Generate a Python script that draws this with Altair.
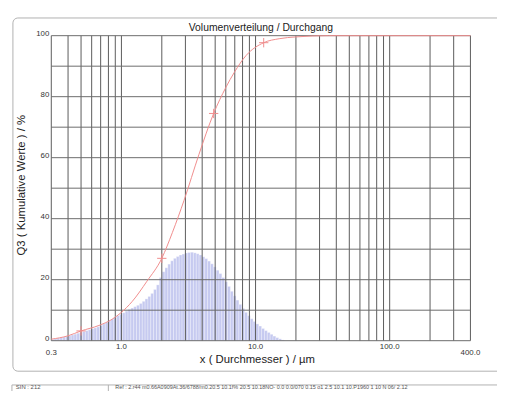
import altair as alt
import pandas as pd

# ---------------- data ----------------
bin_edges = [0.300, 0.315, 0.331, 0.347, 0.365, 0.383, 0.402, 0.422, 0.443, 0.465,
             0.489, 0.513, 0.539, 0.566, 0.594, 0.624, 0.655, 0.688, 0.722, 0.758,
             0.796, 0.836, 0.878, 0.922, 0.968, 1.016, 1.067, 1.120, 1.176, 1.235,
             1.297, 1.362, 1.430, 1.501, 1.576, 1.655, 1.738, 1.825, 1.916, 2.012,
             2.112, 2.218, 2.329, 2.445, 2.567, 2.696, 2.831, 2.972, 3.121, 3.277,
             3.441, 3.613, 3.793, 3.983, 4.182, 4.391, 4.611, 4.841, 5.083, 5.338,
             5.604, 5.885, 6.179, 6.488, 6.812, 7.153, 7.511, 7.886, 8.280, 8.694,
             9.129, 9.585, 10.065, 10.568, 11.096, 11.651, 12.234, 12.845, 13.488, 14.162,
             14.870, 15.614, 16.395]
bin_heights = [0.4, 0.6, 0.85, 1.0, 1.2, 1.35, 1.6, 1.9, 2.15, 2.45,
               2.75, 3.0, 3.3, 3.6, 3.9, 4.2, 4.55, 5.0, 5.5, 6.0,
               6.55, 7.1, 7.7, 8.2, 8.65, 9.15, 9.7, 10.25, 10.7, 11.15,
               11.6, 12.2, 12.9, 13.7, 14.5, 15.5, 16.8, 18.3, 20.7, 22.6,
               23.9, 25.1, 26.2, 27.0, 27.6, 28.1, 28.4, 28.75, 28.9, 29.0,
               28.8, 28.5, 28.1, 27.5, 26.9, 26.1, 25.2, 24.2, 23.1, 22.0,
               20.7, 19.3, 17.8, 16.2, 14.7, 13.3, 11.9, 10.6, 9.3, 8.2,
               7.2, 6.3, 5.5, 4.8, 4.0, 3.3, 2.7, 2.1, 1.5, 1.0,
               0.6, 0.25]

cum_x = [0.3, 0.4, 0.5, 0.68, 0.85, 1.0, 1.2, 1.55, 2.0, 2.4, 2.93, 3.78,
         4.87, 6.0, 6.95, 8.5, 11.5, 15, 20, 35, 400]
cum_q = [0.5, 1.6, 3.2, 5.0, 7.0, 9.3, 12.8, 19.5, 27, 35.5, 46, 61,
         74.5, 83, 88, 93.5, 97.7, 99, 99.6, 100, 100]

mark_x = [0.5, 2.0, 4.87, 11.5]
mark_q = [3.2, 27, 74.5, 97.7]

grid_x = [0.3, 0.4, 0.5, 0.6, 0.7, 0.8, 0.9,
          1, 2, 3, 4, 5, 6, 7, 8, 9,
          10, 20, 30, 40, 50, 60, 70, 80, 90,
          100, 200, 300, 400]
grid_y = [0, 10, 20, 30, 40, 50, 60, 70, 80, 90, 100]

x_ticks_inner = [1, 10, 100]
x_ticks_inner_text = ["1.0", "10.0", "100.0"]
x_ticks_ends = [0.3, 400]
x_ticks_ends_text = ["0.3", "400.0"]
y_ticks = [0, 20, 40, 60, 80, 100]
y_ticks_text = ["0", "20", "40", "60", "80", "100"]

title_text = "Volumenverteilung / Durchgang"
x_title = "x ( Durchmesser ) / µm"
y_title = "Q3 ( Kumulative Werte ) / %"
footer_left = "SIN : 212"
footer_right = ("Ref : 2.r44 m0.66A0909At.36/6788/m0.20.5 10.1f% 20.5 10.18NO- "
                "0.0 0.0/070 0.15 o1 2.5 10.1 10.P1960 1 10 N 06/ 2.12")

FONT = "Liberation Sans"
RED = "#f08c8c"

# ---------------- chart ----------------
xs = alt.Scale(type="log", domain=[0.3, 400])
ys = alt.Scale(domain=[0, 100])

hist_df = pd.DataFrame({"x0": bin_edges[:-1], "x1": bin_edges[1:], "h": bin_heights})
cum_df = pd.DataFrame({"x": cum_x, "q": cum_q})
mark_df = pd.DataFrame({"x": mark_x, "q": mark_q})
inner_df = pd.DataFrame({"x": x_ticks_inner, "t": x_ticks_inner_text})
ends_df = pd.DataFrame({"x": x_ticks_ends, "t": x_ticks_ends_text})
ylab_df = pd.DataFrame({"y": y_ticks, "t": y_ticks_text})
one = pd.DataFrame({"a": [0]})

bars = alt.Chart(hist_df).mark_rect(
    color="#c6caf0", stroke="white", strokeWidth=0.5, strokeOpacity=0.6
).encode(
    x=alt.X("x0:Q", scale=xs, axis=None),
    x2="x1:Q",
    y=alt.Y("h:Q", scale=ys, axis=None),
    y2=alt.datum(0),
)

vgrid = alt.Chart(pd.DataFrame({"g": grid_x})).mark_rule(
    color="#5a5a5a", strokeWidth=1
).encode(x=alt.X("g:Q", scale=xs, axis=None))

hgrid = alt.Chart(pd.DataFrame({"g": grid_y})).mark_rule(
    color="#6a6a6a", strokeWidth=1
).encode(y=alt.Y("g:Q", scale=ys, axis=None))

curve = alt.Chart(cum_df).mark_line(
    color=RED, strokeWidth=1, interpolate="monotone"
).encode(x=alt.X("x:Q", scale=xs, axis=None), y=alt.Y("q:Q", scale=ys, axis=None))

crosses = alt.Chart(mark_df).mark_point(
    shape="M-1,0L1,0M0,-1L0,1", filled=False, color=RED, strokeWidth=1, size=90, opacity=1
).encode(x=alt.X("x:Q", scale=xs, axis=None), y=alt.Y("q:Q", scale=ys, axis=None))

xlab_inner = alt.Chart(inner_df).mark_text(
    font=FONT, fontSize=8, color="#333", baseline="top", align="center", dy=2
).encode(x=alt.X("x:Q", scale=xs, axis=None), y=alt.value(310), text="t:N")

xlab_ends = alt.Chart(ends_df).mark_text(
    font=FONT, fontSize=8, color="#333", baseline="top", align="center", dy=9
).encode(x=alt.X("x:Q", scale=xs, axis=None), y=alt.value(310), text="t:N")

ylab = alt.Chart(ylab_df).mark_text(
    font=FONT, fontSize=8, color="#333", baseline="middle", align="right", dy=-2
).encode(x=alt.value(-2), y=alt.Y("y:Q", scale=ys, axis=None), text="t:N")

xtitle = alt.Chart(pd.DataFrame({"t": [x_title]})).mark_text(
    font=FONT, fontSize=11.5, color="#222", align="center", baseline="alphabetic"
).encode(x=alt.value(209.5), y=alt.value(333), text="t:N")

ytitle = alt.Chart(pd.DataFrame({"t": [y_title]})).mark_text(
    font=FONT, fontSize=11.5, color="#222", align="center", baseline="alphabetic", angle=270
).encode(x=alt.value(-27), y=alt.value(152), text="t:N")

title = alt.Chart(pd.DataFrame({"t": [title_text]})).mark_text(
    font=FONT, fontSize=10.5, color="#222", align="center", baseline="alphabetic"
).encode(x=alt.value(213), y=alt.value(-4.5), text="t:N")

frame = alt.Chart(one).mark_rect(
    fillOpacity=0, stroke="#b0b0b0", strokeWidth=1, cornerRadius=5, clip=False
).encode(x=alt.value(-39), x2=alt.value(480), y=alt.value(-18), y2=alt.value(341))

table = alt.Chart(one).mark_rect(
    fillOpacity=0, stroke="#b0b0b0", strokeWidth=1, clip=False
).encode(x=alt.value(-40), x2=alt.value(480), y=alt.value(355), y2=alt.value(375))

divider = alt.Chart(one).mark_rule(color="#b0b0b0", strokeWidth=1).encode(
    x=alt.value(58), y=alt.value(355), y2=alt.value(375))

foot_l = alt.Chart(pd.DataFrame({"t": [footer_left]})).mark_text(
    align="left", baseline="alphabetic", font=FONT, fontSize=6, color="#555"
).encode(x=alt.value(-36), y=alt.value(359.5), text="t:N")

foot_r = alt.Chart(pd.DataFrame({"t": [footer_right]})).mark_text(
    align="left", baseline="alphabetic", font=FONT, fontSize=5.5, color="#555"
).encode(x=alt.value(65), y=alt.value(359.5), text="t:N")

chart = alt.layer(
    bars, vgrid, hgrid, curve, crosses, xlab_inner, xlab_ends, ylab,
    xtitle, ytitle, title, frame, table, divider, foot_l, foot_r
).properties(
    width=426, height=310,
    padding={"left": 44, "top": 25, "right": 27, "bottom": 48},
    autosize=alt.AutoSizeParams(type="none"),
).configure_view(stroke=None)

chart.save("out.html", embed_options={"renderer": "svg", "actions": False})
